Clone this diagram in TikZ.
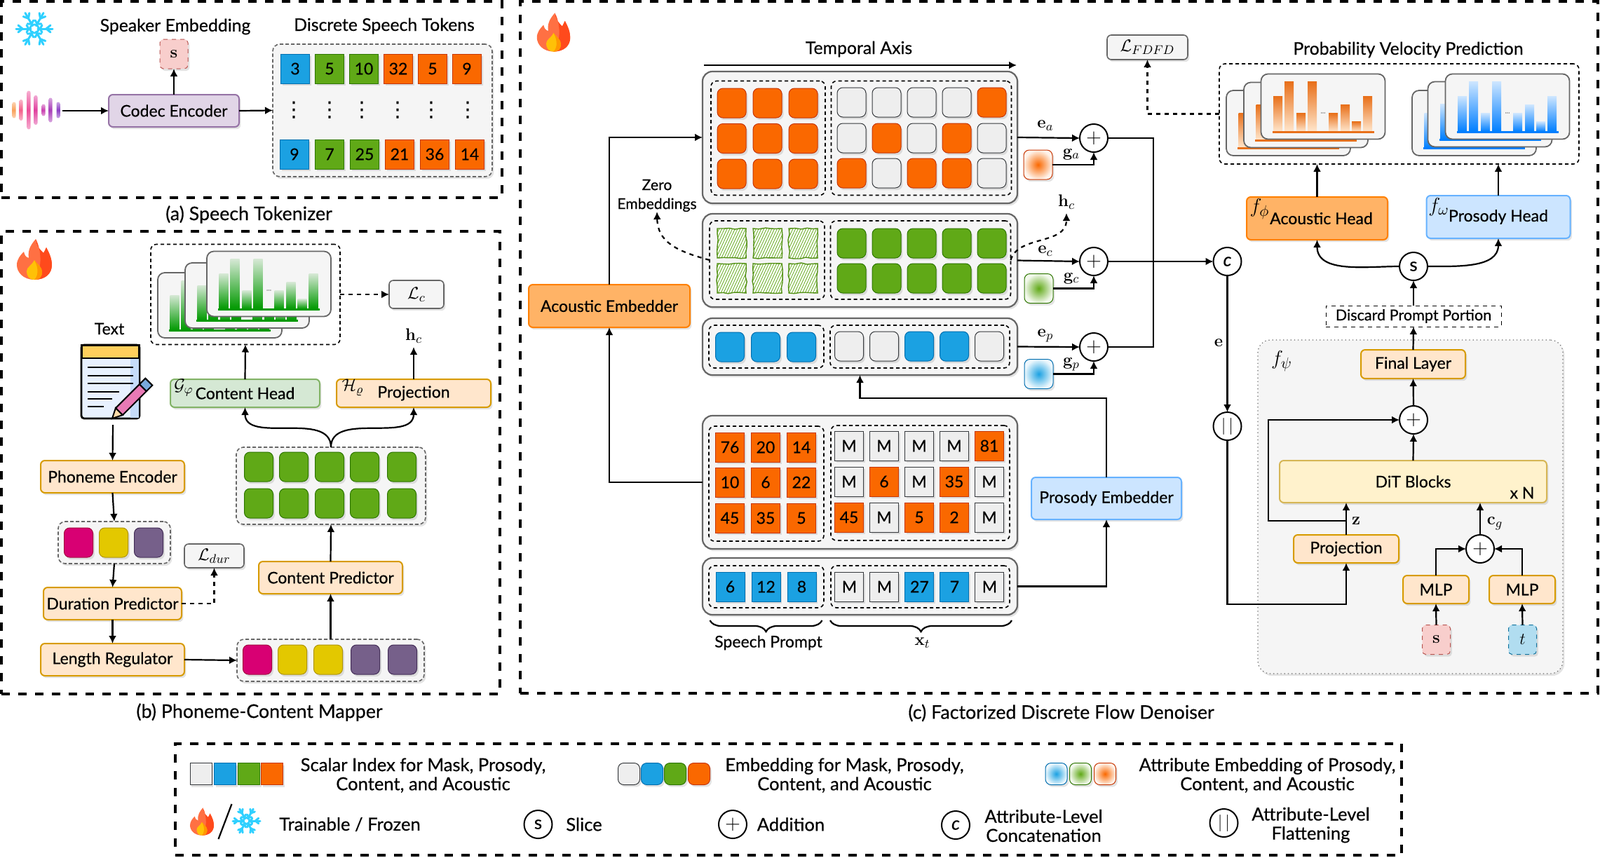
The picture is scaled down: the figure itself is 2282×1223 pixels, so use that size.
\documentclass[tikz,border=0pt]{standalone}
\usepackage[no-math]{fontspec}
\setmainfont{Lato}[FakeBold=0.35]
\newfontfamily\symfont{DejaVu Sans}
\usetikzlibrary{decorations.pathreplacing,decorations.pathmorphing}
\usetikzlibrary{shapes,arrows.meta,calc,positioning,patterns.meta}
\usetikzlibrary{shadows}
\definecolor{tO}{HTML}{FA6800}\definecolor{tOD}{HTML}{C73500}
\definecolor{tB}{HTML}{1BA1E2}\definecolor{tBD}{HTML}{006EAF}
\definecolor{tG}{HTML}{60A917}\definecolor{tGD}{HTML}{2D7600}
\definecolor{tM}{HTML}{EEEEEE}\definecolor{tMD}{HTML}{36393D}
\definecolor{tK}{HTML}{D80073}\definecolor{tKD}{HTML}{A50040}
\definecolor{tY}{HTML}{E3C800}\definecolor{tYD}{HTML}{B09500}
\definecolor{tV}{HTML}{76608A}\definecolor{tVD}{HTML}{432D57}
\definecolor{panelgray}{HTML}{F5F5F5}\definecolor{linegray}{HTML}{666666}
\definecolor{snowblue}{HTML}{2FD0FF}
\definecolor{wvA}{HTML}{F9A05A}\definecolor{wvB}{HTML}{F4608A}\definecolor{wvC}{HTML}{EC4C98}
\definecolor{wvD}{HTML}{E0409E}\definecolor{wvE}{HTML}{C83CAE}\definecolor{wvF}{HTML}{A83CB8}
\definecolor{wvG}{HTML}{8A3EC4}
\definecolor{noteblue}{HTML}{E8F1FF}\definecolor{notestrip}{HTML}{C5DCFA}\definecolor{noteband}{HTML}{FFCF5C}
\definecolor{penpink}{HTML}{E87AB5}\definecolor{pencap}{HTML}{78AADC}\definecolor{pentip}{HTML}{FFDCAA}
\definecolor{chGl}{HTML}{D5E8D4}\definecolor{chGd}{HTML}{009900}
\definecolor{chOd}{HTML}{E8701A}\definecolor{chOl}{HTML}{FFE6CC}
\definecolor{chBl}{HTML}{CCE5FF}\definecolor{chBd}{HTML}{007FFF}
\definecolor{flameL}{HTML}{FF7043}\definecolor{flameR}{HTML}{FF4A1C}
\definecolor{flameY}{HTML}{FFC107}\definecolor{flameM}{HTML}{FF9800}
\tikzset{
    -{Latex[length=5.5pt,width=5.5pt]},auto,
    every node/.style={font=\fontsize{11.5}{14}\selectfont,outer sep=0pt},
    wh/.style 2 args={minimum width=#1*0.5pt,minimum height=#2*0.5pt},
    softshadow/.style={drop shadow={shadow xshift=1.2pt,shadow yshift=-1.6pt,opacity=.22}},
    co/.style={fill=t#1,draw=t#1D},
    scalar/.style={rectangle,draw,wh={41}{42},inner sep=0pt,line width=.5pt,softshadow},
    embed/.style={scalar,rounded corners=4pt},
    attr/.style={embed,draw=t#1D,inner color=t#1,outer color=t#1!8},
    sketch/.style={rectangle,draw=tG!85!black,wh={41}{42},line width=.7pt,decorate,
        decoration={random steps,segment length=4pt,amplitude=.6pt},
        preaction={fill=white},pattern={Lines[angle=65,distance=1.7pt,line width=.4pt]},pattern color=tG},
    frame/.style={rectangle,draw,line width=1.7pt,dash pattern=on 6pt off 6pt},
    bigpanel/.style={rectangle,draw=linegray,fill=panelgray,line width=1.1pt,rounded corners=7pt,softshadow},
    tokpanel/.style={rectangle,draw=linegray,fill=panelgray,line width=.8pt,dash pattern=on 2.5pt off 1.5pt,rounded corners=5pt,softshadow},
    dashbox/.style={rectangle,draw,line width=.8pt,dash pattern=on 2.5pt off 2pt,rounded corners=4pt},
    state/.style={rectangle,draw,rounded corners=3pt,line width=1pt,inner sep=0pt,softshadow},
    peach/.style={state,fill={rgb,255:red,255;green,230;blue,204},draw={rgb,255:red,215;green,155;blue,0}},
    orangebox/.style={state,fill={rgb,255:red,255;green,179;blue,102},draw={rgb,255:red,255;green,128;blue,0}},
    bluebox/.style={state,fill={rgb,255:red,204;green,229;blue,255},draw={rgb,255:red,102;green,178;blue,255}},
    greenbox/.style={state,fill={rgb,255:red,213;green,232;blue,212},draw={rgb,255:red,130;green,179;blue,102}},
    lossbox/.style={state,fill=panelgray,draw=linegray,line width=.8pt},
    token/.style={rectangle,rounded corners=2.5pt,line width=.5pt,dashed,inner sep=0pt,wh={40}{42},softshadow,font=\fontsize{13}{14}\selectfont},
    opc/.style={circle,draw,fill=white,line width=1pt,minimum size=40*0.5pt,inner sep=0pt,font=\fontsize{13}{13}\selectfont},
    plusc/.style={opc,font=\fontsize{15}{15}\selectfont},
    lbl/.style={inner sep=0pt},
    toplbl/.style={lbl,font=\fontsize{12.4}{14}\selectfont},
    mlbl/.style={lbl,font=\fontsize{13}{14}\selectfont},
    capt/.style={lbl,font=\fontsize{13.4}{15}\selectfont},
    legtxt/.style={lbl,align=center,font=\fontsize{12.8}{13.6}\selectfont},
    card/.style={rectangle,draw=linegray,fill=panelgray,line width=.9pt,rounded corners=5pt,wh={177}{93}},
    noarrow/.style={-},
    flame/.pic={
      \fill[flameL] (0,29) .. controls (-16,29) and (-25,18) .. (-25,8) .. controls (-25,0) and (-20,-6) .. (-15,-11)
         .. controls (-14,-6) and (-12,-3) .. (-8,-2) .. controls (-10,-14) and (-4,-22) .. (2,-29)
         .. controls (2,-20) and (8,-14) .. (13,-9) .. controls (14,-11) and (16,-14) .. (17,-17)
         .. controls (22,-8) and (25,0) .. (25,8) .. controls (25,20) and (16,29) .. (0,29) -- cycle;
      \fill[flameR] (2,-29) .. controls (2,-20) and (8,-14) .. (13,-9) .. controls (14,-11) and (16,-14) .. (17,-17)
         .. controls (22,-8) and (25,0) .. (25,8) .. controls (25,20) and (16,29) .. (0,29)
         .. controls (10,18) and (12,-10) .. (2,-29) -- cycle;
      \fill[flameY] (0,29) .. controls (-8,29) and (-11,23) .. (-11,17) .. controls (-11,11) and (-4,9) .. (0,1)
         .. controls (5,8) and (11,11) .. (11,18) .. controls (11,24) and (8,29) .. (0,29) -- cycle;
      \fill[flameM] (0,1) .. controls (5,8) and (11,11) .. (11,18) .. controls (11,24) and (8,29) .. (0,29)
         .. controls (5,24) and (7,14) .. (0,1) -- cycle;
    },
    snow/.pic={
      \foreach \a in {0,60,120,180,240,300} {
        \begin{scope}[rotate=\a,noarrow,draw=snowblue,line width=1.5pt,line cap=round]
          \draw (5,0) -- (26,0);
          \draw (17,0) -- (23,5);
          \draw (17,0) -- (23,-5);
          \draw (8,0) -- (11,5);
          \draw (8,0) -- (11,-5);
        \end{scope}
      }
      \draw[noarrow,draw=snowblue,line width=1.4pt] (0,0) circle [radius=6*0.5pt];
    }
}
% stacked bar chart card, #1 name, #2 #3 centre, #4 top colour, #5 bottom colour, #6 base colour
\newcommand{\chartcard}[6]{
  \node (#1) at (#2,#3) [card] {};
  \begin{scope}[shift={(#2,#3)}]
    \foreach \o/\h in {24/50,40/71,57/26,73/71,103/26,120/38,136/14,152/50}
      \shade[top color=#4,bottom color=#5] ({\o-95},35.5) rectangle ({\o-82},{35.5-\h});
    \fill[#6] (-72.5,34.5) rectangle (72.5,37.5);
    \node (#1dots) at (0,9) [lbl,text=gray,font=\fontsize{5}{5}\selectfont] {...};
  \end{scope}
}
\begin{document}
\begin{tikzpicture}[x=0.5pt,y=-0.5pt,line width=1.1pt]
  \useasboundingbox (0,0) rectangle (2282,1223);
  \fill[white] (0,0) rectangle (2282,1223);

  % (a) tokenizer
  \node (frA) at (359,142) [frame,wh={714}{280}] {};
  \pic at (49,41) {snow};
  \foreach \x/\h/\c in {20/23/wvA,30/30/wvB,41/55/wvC,51/42/wvD,62/17/wvE,72/35/wvF,83/23/wvG}
    \shade[top color=\c!45,bottom color=\c!45,middle color=\c,rounded corners=1.2pt] ({\x-2.5},{157-\h/2}) rectangle ({\x+2.5},{157+\h/2});
  \coordinate (wave) at (89,158);
  \node (spk) at (250,38) [toplbl] {Speaker Embedding};
  \node (dst) at (548,37) [toplbl] {Discrete Speech Tokens};
  \node (sA) at (248,77) [token,fill={rgb,255:red,248;green,206;blue,204},draw={rgb,255:red,184;green,84;blue,80}] {$\mathbf{s}$};
  \node (enc) at (248,158) [state,wh={186}{46},fill={rgb,255:red,225;green,213;blue,231},draw={rgb,255:red,150;green,115;blue,166}] {Codec Encoder};
  \node (tokP) at (545.5,157.5) [tokpanel,wh={313}{189}] {};
  \foreach \t/\c [count=\i] in {3/B,5/G,10/G,32/O,5/O,9/O}
    \node (tr1\i) at ({372+49*\i},98) [scalar,co=\c] {\t};
  \foreach \t/\c [count=\i] in {9/B,7/G,25/G,21/O,36/O,14/O}
    \node (tr2\i) at ({370+50*\i},220) [scalar,co=\c] {\t};
  \foreach \x [count=\i] in {419,470,516,567,615,667}
    \node (vd\i) at (\x,157) [lbl,font=\fontsize{15}{15}\selectfont\symfont] {⋮};
  \path (wave) edge (enc.west);
  \path (enc.east) edge (tokP.west);
  \path (enc.north) edge (sA.south);
  \node (capA) at (355,306) [capt] {(a) Speech Tokenizer};

  % (b) mapper
  \node (frB) at (357.5,660) [frame,wh={711}{660}] {};
  \pic at (49,370) {flame};
  \node (chB) at (350,420) [dashbox,wh={270}{143}] {};
  \chartcard{cb1}{313.5}{435.5}{chGl}{chGd}{chGd}
  \chartcard{cb2}{352.5}{421.5}{chGl}{chGd}{chGd}
  \chartcard{cb3}{383.5}{405}{chGl}{chGd}{chGd}
  \node (lossC) at (594,420) [lossbox,wh={78}{40},font=\fontsize{13}{14}\selectfont] {$\mathcal{L}_c$};
  \path (chB.east) edge [dashed] (lossC.west);
  \node (txt) at (156,469) [lbl] {Text};
  % note icon
  \draw[fill=noteblue,rounded corners=2pt,line width=1.4pt] (116,492) rectangle (199,597);
  \fill[notestrip] (186,511) rectangle (198,596);
  \draw[fill=noteband,line width=1.2pt] (116.5,492.5) rectangle (198.5,511);
  \foreach \y/\x in {524/190,536/190,547/190,559/170,569/160,580/148}
    \draw[noarrow,line width=1.2pt] (125,\y) -- (\x,\y);
  \begin{scope}[shift={(160,597)},rotate=45,noarrow,line width=1pt]
    \draw[fill=penpink] (14,-7) rectangle (62,7);
    \draw[fill=pencap] (62,-7) rectangle (74,7);
    \draw[fill=pentip] (0,0) -- (14,-7) -- (14,7) -- cycle;
  \end{scope}
  \coordinate (noteOut) at (161,606);
  \node (phon) at (160.5,680) [peach,wh={205}{46}] {Phoneme Encoder};
  \node (ph3) at (163,774) [tokpanel,wh={160}{60}] {};
  \foreach \x/\c [count=\i] in {112/K,162/Y,212/V}
    \node (ph3t\i) at (\x,774) [embed,co=\c] {};
  \node (dur) at (160.5,861) [peach,wh={197}{46}] {Duration Predictor};
  \node (lenr) at (160.5,941) [peach,wh={205}{46}] {Length Regulator};
  \node (lossD) at (305.5,793) [lossbox,wh={85}{34},font=\fontsize{13}{14}\selectfont] {$\mathcal{L}_{dur}$};
  \node (ph5) at (471.5,942) [tokpanel,wh={267}{60}] {};
  \foreach \x/\c [count=\i] in {367/K,417/Y,468/Y,521/V,574/V}
    \node (ph5t\i) at (\x,941) [embed,co=\c] {};
  \node (cpred) at (471.5,824) [peach,wh={205}{46}] {Content Predictor};
  \node (grB) at (472,693) [tokpanel,wh={270}{110}] {};
  \foreach \y [count=\j] in {666,718}
    \foreach \x [count=\i] in {369,419,470,520,573}
      \node (grt\i\j) at (\x,\y) [embed,co=G] {};
  \node (chead) at (349.5,561) [greenbox,wh={213}{40}] {Content Head};
  \node (gsym) at (262,553) [mlbl] {$\mathcal{G}_\varphi$};
  \node (pjB) at (590,561) [peach,wh={220}{40}] {Projection};
  \node (hsym) at (503,553) [mlbl] {$\mathcal{H}_\varrho$};
  \node (hcB) at (590,479) [mlbl] {$\mathbf{h}_c$};
  \coordinate (hcEnd) at (590,495);
  \path (noteOut) edge (phon.north);
  \path (phon.south) edge (ph3.north);
  \path (ph3.south) edge (dur.north);
  \path (dur.south) edge (lenr.north);
  \draw[dashed] (dur.east) -| (lossD.south);
  \path (lenr.east) edge (ph5.west);
  \path (ph5.north) edge (cpred.south);
  \path (cpred.north) edge (grB.south);
  \draw (grB.north) to [out=90,in=-90] (chead.south);
  \draw (grB.north) to [out=90,in=-90] (pjB.south);
  \path (chead.north) edge (chB.south);
  \path (pjB.north) edge (hcEnd);
  \node (capB) at (370,1016) [capt] {(b) Phoneme-Content Mapper};

  % (c) denoiser
  \node (frC) at (1510.5,495.5) [frame,wh={1537}{987}] {};
  \pic at (789.5,46) [scale=.95] {flame};
  \node (tmp) at (1225,70) [toplbl] {Temporal Axis};
  \coordinate (axL) at (1004,93);
  \coordinate (axR) at (1450,93);
  \path (axL) edge (axR);

  \node (pA) at (1226.5,196) [bigpanel,wh={449}{188}] {};
  \node (inAL) at (1095.5,197) [dashbox,wh={163}{163}] {};
  \node (inAR) at (1314,197) [dashbox,wh={257}{163}] {};
  \foreach \y [count=\j] in {147,197.5,248}
    \foreach \i in {1,2,3}
      \node (aL\i\j) at ({992.6+51*\i},\y) [embed,co=O] {};
  \foreach \y/\row [count=\j] in {146/{M,M,M,M,O},197/{M,O,M,O,M},247/{O,M,O,O,M}}
    \foreach \c [count=\i] in \row
      \node (aR\i\j) at ({1164.5+50*\i},\y) [embed,co=\c] {};

  \node (pG) at (1226.5,371.5) [bigpanel,wh={449}{133}] {};
  \node (inGL) at (1094,371) [dashbox,wh={164}{112}] {};
  \node (inGR) at (1313,371) [dashbox,wh={257}{112}] {};
  \foreach \y [count=\j] in {347,397}
    \foreach \i in {1,2,3}
      \node (gL\i\j) at ({992.6+51*\i},\y) [sketch] {};
  \foreach \y [count=\j] in {347,397}
    \foreach \i in {1,...,5}
      \node (gR\i\j) at ({1164.5+50*\i},\y) [embed,co=G] {};

  \node (pP) at (1226.5,494.5) [bigpanel,wh={449}{81}] {};
  \node (inPL) at (1093,494.5) [dashbox,wh={164}{61}] {};
  \node (inPR) at (1312,494.5) [dashbox,wh={256}{61}] {};
  \foreach \i in {1,2,3}
    \node (pL\i) at ({990+51*\i},495) [embed,co=B] {};
  \foreach \c [count=\i] in {M,M,B,B,M}
    \node (pR\i) at ({1161+50*\i},494) [embed,co=\c] {};

  \node (pM) at (1226.5,688) [bigpanel,wh={449}{190}] {};
  \node (inML) at (1093,690) [dashbox,wh={164}{164}] {};
  \node (inMR) at (1312.5,689) [dashbox,wh={255}{164}] {};
  \foreach \y/\row [count=\j] in {638/{76,20,14},688/{10,6,22},739/{45,35,5}}
    \foreach \t [count=\i] in \row
      \node (mL\i\j) at ({990+51*\i},\y) [scalar,co=O] {\t};
  \foreach \y/\row [count=\j] in {636/{M/M,M/M,M/M,M/M,81/O},687/{M/M,6/O,M/M,35/O,M/M},738/{45/O,M/M,5/O,2/O,M/M}}
    \foreach \t/\c [count=\i] in \row
      \node (mR\i\j) at ({1161+50*\i},\y) [scalar,co=\c] {\t};

  \node (pT) at (1226.5,836.5) [bigpanel,wh={449}{81}] {};
  \node (inTL) at (1093,837) [dashbox,wh={164}{60}] {};
  \node (inTR) at (1312.5,837) [dashbox,wh={255}{60}] {};
  \foreach \t [count=\i] in {6,12,8}
    \node (tL\i) at ({990.5+51*\i},837) [scalar,co=B] {\t};
  \foreach \t/\c [count=\i] in {M/M,M/M,27/B,7/B,M/M}
    \node (tR\i) at ({1161.4+50*\i},837) [scalar,co=\c] {\t};

  \coordinate (brA1) at (1012.5,885);
  \coordinate (brA2) at (1172.5,885);
  \coordinate (brB1) at (1184,885);
  \coordinate (brB2) at (1443,885);
  \draw[noarrow,decorate,decoration={brace,mirror,amplitude=8pt}] (brA1) -- (brA2);
  \draw[noarrow,decorate,decoration={brace,mirror,amplitude=8pt}] (brB1) -- (brB2);
  \node (spr) at (1096,917) [lbl] {Speech Prompt};
  \node (xt) at (1315.5,917) [mlbl] {$\mathbf{x}_t$};

  \node (aemb) at (869,436.5) [orangebox,wh={230}{61}] {Acoustic Embedder};
  \node (pemb) at (1578,711) [bluebox,wh={214}{60}] {Prosody Embedder};
  \draw (aemb.north) |- (pA.west);
  \draw (pM.west) -| (aemb.south);
  \coordinate (prTurn) at (1226.5,568);
  \draw (pemb.north) |- (prTurn) -- (pP.south);
  \draw (pT.east) -| (pemb.south);

  \node (zero) at (937,279) [lbl,align=center,font=\fontsize{10.6}{13.5}\selectfont] {Zero\\Embeddings};
  \draw[dashed] (inGL.west) .. controls (964,358) and (938,345) .. (zero.south);
  \node (hcC) at (1521,288) [mlbl] {$\mathbf{h}_c$};
  \coordinate (hcCend) at (1521,304);
  \draw[dashed] (inGR.east) .. controls (1452,335) and (1521,350) .. (hcCend);

  \node (plA) at (1560,197) [plusc] {$\mathbf{+}$};
  \node (plG) at (1560,373) [plusc] {$\mathbf{+}$};
  \node (plP) at (1560,495) [plusc] {$\mathbf{+}$};
  \node (gA) at (1480.5,235) [attr=O] {};
  \node (gG) at (1481.5,411.5) [attr=G] {};
  \node (gP) at (1481.5,533.5) [attr=B] {};
  \node (lea) at (1491,179) [mlbl] {$\mathbf{e}_a$};
  \node (lec) at (1491,358) [mlbl] {$\mathbf{e}_c$};
  \node (lep) at (1491,479) [mlbl] {$\mathbf{e}_p$};
  \node (lga) at (1528,220) [mlbl] {$\mathbf{g}_a$};
  \node (lgc) at (1528,397) [mlbl] {$\mathbf{g}_c$};
  \node (lgp) at (1528,520) [mlbl] {$\mathbf{g}_p$};
  \path (pA.east) edge (plA.west);
  \path (pG.east) edge (plG.west);
  \path (pP.east) edge (plP.west);
  \draw (gA.east) -| (plA.south);
  \draw (gG.east) -| (plG.south);
  \draw (gP.east) -| (plP.south);
  \node (conc) at (1750.5,373) [opc,font=\fontsize{13}{13}\selectfont\itshape] {c};
  \coordinate (jn) at (1645,373);
  \draw[noarrow] (plA.east) -| (jn) |- (plP.east);
  \path (plG.east) edge (conc.west);
  \node (flat) at (1750.5,608) [opc] {$|\,|$};
  \node (le) at (1738,489) [mlbl] {$\mathbf{e}$};
  \path (conc.south) edge (flat.north);
  \coordinate (flatTurn) at (1750.5,862);

  % predictions
  \node (lossF) at (1636.5,67.5) [lossbox,wh={115}{35},font=\fontsize{13}{14}\selectfont] {$\mathcal{L}_{FDFD}$};
  \node (pvp) at (2008.5,71) [toplbl] {Probability Velocity Prediction};
  \node (pred) at (1995.5,162.5) [dashbox,wh={513}{143}] {};
  \chartcard{co1}{1837.5}{175.5}{chOd}{chOl}{chOd}
  \chartcard{co2}{1862.5}{164}{chOd}{chOl}{chOd}
  \chartcard{co3}{1887}{152}{chOd}{chOl}{chOd}
  \chartcard{cl1}{2102.5}{175.5}{chBl}{chBd}{chBd}
  \chartcard{cl2}{2125}{163}{chBl}{chBd}{chBd}
  \chartcard{cl3}{2150}{152}{chBl}{chBd}{chBd}
  \draw[dashed] (pred.west) -| (lossF.south);
  \node (ahead) at (1878.5,311.5) [orangebox,wh={201}{61}] {\hspace{6pt}Acoustic Head};
  \node (fphi) at (1796.5,298) [lbl,font=\fontsize{15}{15}\selectfont] {$f_\phi$};
  \node (phead) at (2137,309.5) [bluebox,wh={205}{61}] {Prosody Head};
  \node (fom) at (2052,295) [lbl,font=\fontsize{15}{15}\selectfont] {$f_\omega$};
  \path (ahead.north) edge (ahead.north |- pred.south);
  \path (phead.north) edge (phead.north |- pred.south);
  \node (slc) at (2016,380) [opc] {s};
  \draw (slc.west) to [out=180,in=-90] (ahead.south);
  \draw (slc.east) to [out=0,in=-90] (phead.south);
  \node (disc) at (2016,451) [rectangle,draw,dash pattern=on 3pt off 3pt,line width=.5pt,fill=white,wh={250}{30},inner sep=0pt,font=\fontsize{10.8}{13}\selectfont] {Discard Prompt Portion};
  \path (disc.north) edge (slc.south);

  % denoiser core
  \node (fpsi) at (2011.5,723) [rectangle,draw=linegray,fill=panelgray,line width=.6pt,dotted,rounded corners=9pt,wh={435}{476},softshadow] {};
  \node (lpsi) at (1828,515) [lbl,font=\fontsize{15}{15}\selectfont] {$f_\psi$};
  \node (flay) at (2015.5,519.5) [peach,wh={149}{41}] {Final Layer};
  \node (plD) at (2016,599) [plusc] {$\mathbf{+}$};
  \node (dit) at (2015.5,687) [state,wh={381}{60},fill={rgb,255:red,255;green,242;blue,204},draw={rgb,255:red,214;green,182;blue,86}] {DiT Blocks};
  \node (xn) at (2171,703) [lbl] {x N};
  \node (proj) at (1920,783) [peach,wh={150}{40}] {Projection};
  \node (plE) at (2111,783) [plusc] {$\mathbf{+}$};
  \node (mlp1) at (2048,841) [peach,wh={94}{40}] {MLP};
  \node (mlp2) at (2171,841) [peach,wh={94}{40}] {MLP};
  \node (sC) at (2048.5,912.5) [token,fill={rgb,255:red,248;green,206;blue,204},draw={rgb,255:red,184;green,84;blue,80}] {$\mathbf{s}$};
  \node (tC) at (2171.5,912.5) [token,fill={rgb,255:red,177;green,221;blue,240},draw={rgb,255:red,16;green,115;blue,158}] {$t$};
  \node (lz) at (1934,743) [mlbl] {$\mathbf{z}$};
  \node (lcg) at (2132,747) [mlbl] {$\mathbf{c}_g$};
  \coordinate (skipA) at (1920,743);
  \coordinate (skipB) at (1809,599);
  \path (flay.north) edge (disc.south);
  \path (plD.north) edge (flay.south);
  \path (dit.north) edge (plD.south);
  \path (proj.north) edge (proj.north |- dit.south);
  \path (plE.north) edge (plE.north |- dit.south);
  \draw (skipA) -| (skipB) -- (plD.west);
  \draw (mlp1.north) |- (plE.west);
  \draw (mlp2.north) |- (plE.east);
  \path (sC.north) edge (mlp1.south);
  \path (tC.north) edge (mlp2.south);
  \draw (flat.south) -- (flatTurn) -| (proj.south);
  \node (capC) at (1513.5,1017) [capt] {(c) Factorized Discrete Flow Denoiser};

  % legend
  \node (frL) at (1124.5,1140.5) [frame,wh={1749}{159}] {};
  \foreach \x/\c [count=\i] in {286.5/M,321/B,355/G,388/O}
    \node (lgS\i) at (\x,1104) [scalar,co=\c,wh={31}{31}] {};
  \node (lgSt) at (603.5,1106) [legtxt] {Scalar Index for Mask, Prosody,\\Content, and Acoustic};
  \foreach \x/\c [count=\i] in {897/M,930/B,963/G,997/O}
    \node (lgE\i) at (\x,1104) [embed,co=\c,wh={31}{31}] {};
  \node (lgEt) at (1204.5,1106) [legtxt] {Embedding for Mask, Prosody,\\Content, and Acoustic};
  \foreach \x/\c [count=\i] in {1506.5/B,1541/G,1576/O}
    \node (lgA\i) at (\x,1104) [attr=\c,wh={31}{31}] {};
  \node (lgAt) at (1807.5,1106) [legtxt] {Attribute Embedding of Prosody,\\Content, and Acoustic};
  \pic at (288,1172) [scale=.68] {flame};
  \coordinate (slA) at (330.5,1147);
  \coordinate (slB) at (311.5,1197);
  \path (slA) edge [noarrow] (slB);
  \pic at (351.5,1171) [scale=.75] {snow};
  \node (lgT) at (499,1176) [legtxt] {Trainable / Frozen};
  \node (lgSl) at (767.5,1176) [opc,fill=none] {s};
  \node (lgSlt) at (833,1176) [legtxt] {Slice};
  \node (lgP) at (1045,1176) [plusc,fill=none] {$\mathbf{+}$};
  \node (lgPt) at (1128,1176) [legtxt] {Addition};
  \node (lgC) at (1363,1177) [opc,fill=none,font=\fontsize{13}{13}\selectfont\itshape] {c};
  \node (lgCt) at (1488.5,1178) [legtxt] {Attribute-Level\\Concatenation};
  \node (lgF) at (1745.5,1174) [opc,fill=none] {$|\,|$};
  \node (lgFt) at (1869.5,1177) [legtxt] {Attribute-Level\\Flattening};
\end{tikzpicture}
\end{document}
